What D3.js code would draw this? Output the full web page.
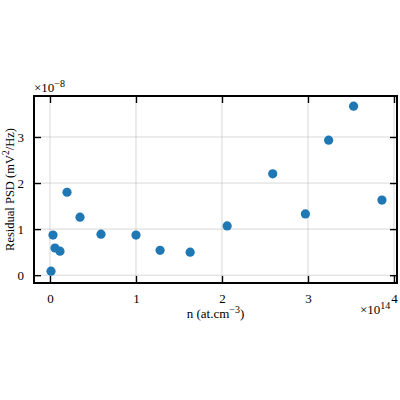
<!DOCTYPE html>
<html><head><meta charset="utf-8">
<script src="https://cdn.jsdelivr.net/npm/d3@7"></script>
<style>body{margin:0;background:#fff}text{font-family:"Liberation Serif",serif}</style>
</head><body><div id="chart"></div>
<script>
// n in units of 1e14 at.cm^-3, PSD in units of 1e-8 mV^2/Hz
const nVals = [0.012, 0.035, 0.058, 0.116, 0.198, 0.349, 0.593, 1.0, 1.28, 1.63, 2.06, 2.59, 2.97, 3.24, 3.53, 3.86];
const psdVals = [0.087, 0.87, 0.59, 0.52, 1.80, 1.26, 0.89, 0.87, 0.54, 0.50, 1.07, 2.20, 1.33, 2.93, 3.67, 1.63];
const xTicks = [0, 1, 2, 3, 4];
const yTicks = [0, 1, 2, 3];

const W = 400, H = 400;
const m = { left: 34, right: 3, top: 96, bottom: 117 };
const iw = W - m.left - m.right, ih = H - m.top - m.bottom;

const svg = d3.select("#chart").append("svg").attr("width", W).attr("height", H);
const g = svg.append("g").attr("transform", `translate(${m.left},${m.top})`);

const x = d3.scaleLinear().domain([-0.186, 4.035]).range([0, iw]);
const y = d3.scaleLinear().domain([-0.17, 3.89]).range([ih, 0]);

g.append("g").selectAll("line").data(xTicks).join("line")
  .attr("x1", d => x(d)).attr("x2", d => x(d)).attr("y1", 0).attr("y2", ih)
  .attr("stroke", "#b0b0b0").attr("stroke-width", 0.8).attr("opacity", 0.6);
g.append("g").selectAll("line").data(yTicks).join("line")
  .attr("y1", d => y(d)).attr("y2", d => y(d)).attr("x1", 0).attr("x2", iw)
  .attr("stroke", "#b0b0b0").attr("stroke-width", 0.8).attr("opacity", 0.6);

function styleAxis(sel, lbl) {
  sel.select(".domain").remove();
  sel.selectAll(".tick line").attr("stroke", "#000").attr("stroke-width", 1.4);
  sel.selectAll("text").attr("font-size", 13).attr("fill", "#000").style("display", lbl ? null : "none");
}
const tick = 7;
g.append("g").attr("transform", `translate(0,${ih})`)
  .call(d3.axisBottom(x).tickValues(xTicks).tickSizeInner(-tick).tickPadding(tick + 4).tickFormat(d3.format("d")))
  .call(s => styleAxis(s, true));
g.append("g")
  .call(d3.axisTop(x).tickValues(xTicks).tickSizeInner(-tick))
  .call(s => styleAxis(s, false));
g.append("g")
  .call(d3.axisLeft(y).tickValues(yTicks).tickSizeInner(-tick).tickPadding(tick + 3).tickFormat(d3.format("d")))
  .call(s => styleAxis(s, true));
g.append("g").attr("transform", `translate(${iw},0)`)
  .call(d3.axisRight(y).tickValues(yTicks).tickSizeInner(-tick))
  .call(s => styleAxis(s, false));

g.append("rect").attr("width", iw).attr("height", ih).attr("fill", "none").attr("stroke", "#000").attr("stroke-width", 2);

g.append("g").selectAll("circle").data(nVals).join("circle")
  .attr("cx", d => x(d)).attr("cy", (d, i) => y(psdVals[i])).attr("r", 4.6).attr("fill", "#1f77b4");

svg.append("text").attr("x", 34).attr("y", 92).attr("font-size", 13).html('×10<tspan dy="-5" font-size="10">−8</tspan>');
svg.append("text").attr("x", 360).attr("y", 314).attr("font-size", 13).html('×10<tspan dy="-5" font-size="10">14</tspan>');
svg.append("text").attr("x", m.left + iw / 2).attr("y", 318).attr("text-anchor", "middle").attr("font-size", 13)
  .html('n (at.cm<tspan dy="-5" font-size="10">−3</tspan><tspan dy="5">)</tspan>');
svg.append("text").attr("transform", `translate(13.5,${m.top + ih / 2}) rotate(-90)`).attr("text-anchor", "middle").attr("font-size", 12.5)
  .html('Residual PSD (mV<tspan dy="-5" font-size="9.5">2</tspan><tspan dy="5">/Hz)</tspan>');
</script></body></html>
